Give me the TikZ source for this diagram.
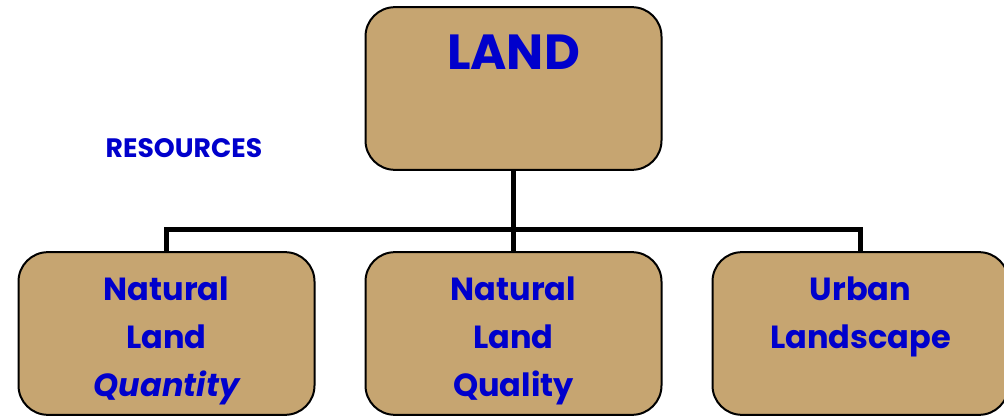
\documentclass[tikz,border=0pt]{standalone}
\usepackage{xcolor}
\usepackage{fontspec}
\setmainfont{Poppins}
\definecolor{landtan}{RGB}{198,165,113}
\definecolor{landblue}{RGB}{0,0,204}
\tikzset{
  landbox/.style={draw=black, line width=1.5pt, fill=landtan, rounded corners=22pt,
    minimum width=222pt, minimum height=122pt, inner sep=0pt},
  itembox/.style={landbox, align=center, text=landblue, text height=94pt, text depth=0pt,
    font=\fontsize{24}{36}\selectfont\bfseries},
  branch/.style={line width=3.75pt}
}

\begin{document}
\begin{tikzpicture}[x=0.75pt, y=-0.75pt]
    \useasboundingbox (0,0) rectangle (1004,417);
    \node[landbox] (land) at (513.5,88.5) {};
    \node[text=landblue, font=\fontsize{37}{40}\selectfont\bfseries] (landtitle) at (513.5,52) {LAND};
    \node[text=landblue, font=\fontsize{20}{24}\selectfont\bfseries] (resources) at (184,148) {RESOURCES};
    \node[itembox] (quantity) at (166.5,333.5) {Natural\\Land\\\itshape Quantity}; % left
    \node[itembox] (quality) at (513.5,333.5) {Natural\\Land\\Quality};           % middle
    \node[itembox] (urban) at (860.5,333.5) {Urban\\Landscape\\\strut};           % right
    \coordinate (split) at (513.5,230);
    \draw[branch] (land.south) -- (quality.north);
    \draw[branch] (quantity.north) -- (quantity.north |- split) -- (urban.north |- split) -- (urban.north);
\end{tikzpicture}
\end{document}
